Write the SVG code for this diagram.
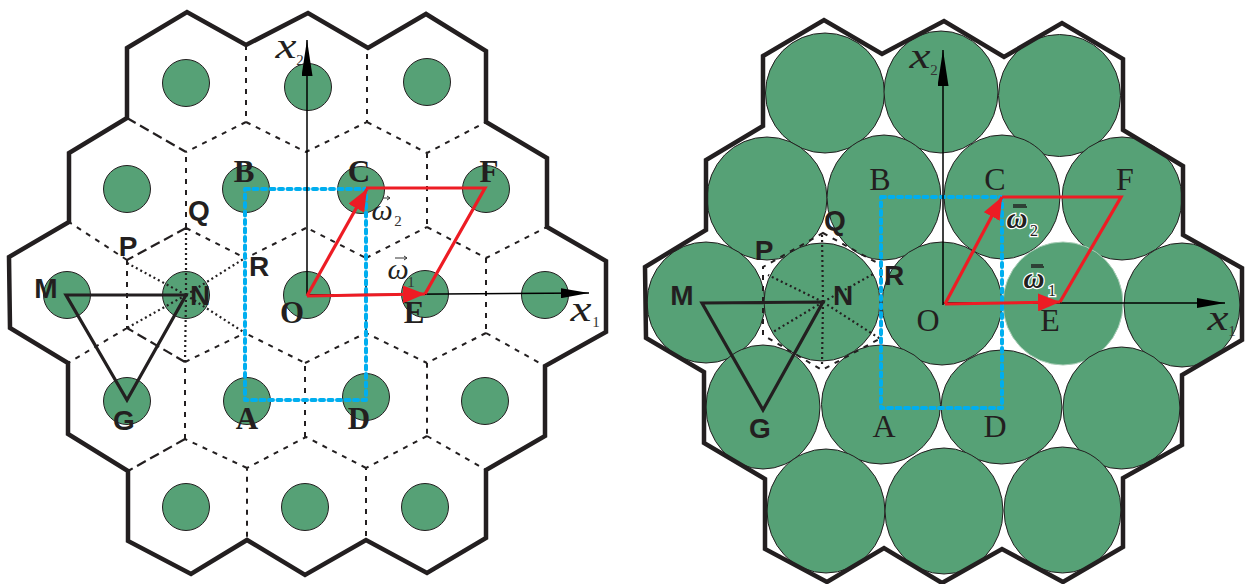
<svg xmlns="http://www.w3.org/2000/svg" width="1248" height="584" viewBox="0 0 1248 584">
<style>
.c{fill:#56a176;stroke:#231f20;stroke-width:1}
.o{fill:none;stroke:#231f20;stroke-width:4.5;stroke-linejoin:miter}
.d{fill:none;stroke:#231f20;stroke-width:2;stroke-dasharray:5 6}
.l{fill:none;stroke:#231f20;stroke-width:2.2;stroke-dasharray:10 5}
.p{fill:none;stroke:#231f20;stroke-width:2.2;stroke-dasharray:2 3}
.b{fill:none;stroke:#00aeef;stroke-width:4;stroke-dasharray:4 4.5;stroke-linecap:round;stroke-linejoin:round}
.a{fill:none;stroke:#000;stroke-width:1.5}
.t{fill:none;stroke:#231f20;stroke-width:3.2}
.r{fill:none;stroke:#ed1c24;stroke-width:3.2}
text{fill:#231f20;text-anchor:middle}
.sb{font:bold 28px "Liberation Sans",Arial,sans-serif}
.ss{font:bold 31px "Liberation Serif","Times New Roman",serif}
.sr{font:32px "Liberation Serif","Times New Roman",serif}
.x{font:italic 36px "Liberation Serif","Times New Roman",serif}
.sub{font:15px "Liberation Serif","Times New Roman",serif;fill:#333}
.w{font:italic 30px "Liberation Serif","Times New Roman",serif}
.h{font:italic bold 29px "Liberation Serif","Times New Roman",serif;stroke:#fff;stroke-width:2.5;paint-order:stroke}
.hs{font:16px "Liberation Serif","Times New Roman",serif;stroke:#fff;stroke-width:2.5;paint-order:stroke}
.v{stroke:#333;stroke-width:1;fill:none}
.vw{stroke:#222;stroke-width:1.5;fill:none}
</style>
<defs>
<marker id="red" markerUnits="userSpaceOnUse" markerWidth="22" markerHeight="18" viewBox="0 0 22 18" refX="22" refY="9" orient="auto"><path d="M0 0L22 9L0 18Z" fill="#ed1c24"/></marker>
<marker id="ax1" markerUnits="userSpaceOnUse" markerWidth="28" markerHeight="10" viewBox="0 0 28 10" refX="28" refY="5" orient="auto"><path d="M0 0L28 5L0 10Z" fill="#000"/></marker>
<marker id="ax2" markerUnits="userSpaceOnUse" markerWidth="36" markerHeight="11" viewBox="0 0 36 11" refX="36" refY="5.5" orient="auto"><path d="M0 0L36 5.5L0 11Z" fill="#000"/></marker>
</defs>

<g id="left-panel">
<g id="left-cells">
<circle class="c" cx="186" cy="83" r="23.5"/><circle class="c" cx="308" cy="87" r="23.5"/><circle class="c" cx="427" cy="82" r="23.5"/>
<circle class="c" cx="127" cy="189" r="23.5"/><circle class="c" cx="246" cy="189" r="23.5"/><circle class="c" cx="361" cy="190" r="23.5"/><circle class="c" cx="486" cy="189" r="23.5"/>
<circle class="c" cx="67" cy="295" r="23.5"/><circle class="c" cx="186" cy="295" r="23.5"/><circle class="c" cx="307" cy="295" r="23.5"/><circle class="c" cx="425" cy="294" r="23.5"/><circle class="c" cx="545" cy="295" r="23.5"/>
<circle class="c" cx="127" cy="401" r="23.5"/><circle class="c" cx="247" cy="401" r="23.5"/><circle class="c" cx="366" cy="397" r="23.5"/><circle class="c" cx="485" cy="401" r="23.5"/>
<circle class="c" cx="186" cy="507" r="23.5"/><circle class="c" cx="305" cy="507" r="23.5"/><circle class="c" cx="425" cy="507" r="23.5"/>
</g>
<g id="left-connectors">
<path class="d" d="M246 45V122L186 152M246 122L306 152L367 122V48M367 122L427 153L486 122M427 153V227M427 227L486 258L547 227M486 258V333M486 333L427 363V436M486 333L545 366M427 436L486 470M427 436L366 468V540M366 468L306 437L247 468V540M247 468L185 439M305 437V363L245 333M305 363L366 333L427 363M366 333V258L307 228M366 258L427 227M306 228L246 258M186 228V152M127 260L69 222M127 260V328M127 328L68 363M185 439V362"/>
<path class="l" d="M127 118L186 152M186 228L127 260M185 362L127 328M185 439L128 471"/>
<path class="d" d="M186 228L245 258M185 362L245 333"/>
<path class="p" d="M186 295L186 228M186 295L127 263M186 295L245 258M186 295L127 328M186 295L245 333M186 295L185 362"/>
<path class="b" d="M245 189H366V400H245Z"/>
<path class="a" d="M307 295V40" marker-end="url(#ax2)"/>
<path class="a" d="M307 295L589 293" marker-end="url(#ax1)"/>
<path class="t" d="M66 295H186L127 400Z"/>
<path class="r" d="M366 188L485 188L425 294"/>
<path class="r" d="M307 296L367 189" marker-end="url(#red)"/>
<path class="r" d="M307 296L425 294" marker-end="url(#red)"/>
<path class="o" d="M127 48L187 12L246 45L308 13L368 48L426 14L486 51V122L547 158V227L606 261V332L545 366V436L486 470V538L427 573L366 540L305 575L247 540L191 574L128 541V471L68 434V363L10 328L9 257L69 222V153L127 118Z"/>
<path class="v" d="M383 198H390M387 196L390 198L387 200"/>
<path class="v" d="M395 258H407M404 256L407 258L404 260"/>
</g>
<g id="left-labels">
<text class="ss" x="244" y="182">B</text><text class="ss" x="359" y="182">C</text><text class="ss" x="489" y="182">F</text>
<text class="ss" x="292" y="323">O</text><text class="ss" x="414" y="323">E</text><text class="ss" x="247" y="429">A</text><text class="ss" x="359" y="429">D</text>
<text class="sb" x="124" y="430">G</text><text class="sb" x="46" y="298">M</text><text class="sb" x="200" y="305">N</text>
<text class="sb" x="199" y="220">Q</text><text class="sb" x="128" y="256">P</text><text class="sb" x="259" y="276">R</text>
<text class="x" x="286" y="58" textLength="21" lengthAdjust="spacingAndGlyphs">x</text><text class="sub" x="300" y="65">2</text>
<text class="x" x="581" y="321" textLength="21" lengthAdjust="spacingAndGlyphs">x</text><text class="sub" x="596" y="327">1</text>
<text class="w" x="382" y="220">ω</text><text class="sub" x="398" y="226">2</text>
<text class="w" x="398" y="279">ω</text><text class="sub" x="411" y="287">1</text>
</g>
</g>

<g id="right-panel">
<g id="right-cells">
<ellipse class="c" cx="825" cy="93" rx="59.5" ry="60"/><ellipse class="c" cx="941" cy="92" rx="57" ry="61"/><ellipse class="c" cx="1059.500" cy="95.500" rx="61" ry="61"/>
<ellipse class="c" cx="767" cy="198.500" rx="60" ry="61.500"/><ellipse class="c" cx="884" cy="197.500" rx="57" ry="62.500"/><ellipse class="c" cx="1002" cy="197" rx="58" ry="62"/><ellipse class="c" cx="1122" cy="198.500" rx="60" ry="61.500"/>
<ellipse class="c" cx="706" cy="302.500" rx="59" ry="60.500"/><ellipse class="c" cx="822" cy="302" rx="58" ry="59"/><ellipse class="c" cx="942" cy="303.500" rx="60" ry="61.500"/><ellipse class="c" cx="1063" cy="303.500" rx="60" ry="61.500" style="stroke:#a9cdb7"/><ellipse class="c" cx="1182" cy="305" rx="58" ry="62"/>
<ellipse class="c" cx="763" cy="407" rx="57" ry="62"/><ellipse class="c" cx="881" cy="404.500" rx="59.500" ry="59.500"/><ellipse class="c" cx="1001.500" cy="407" rx="60.500" ry="57"/><ellipse class="c" cx="1121.500" cy="408" rx="58.500" ry="61"/>
<ellipse class="c" cx="826" cy="511" rx="59" ry="62"/><ellipse class="c" cx="944" cy="511" rx="59" ry="63"/><ellipse class="c" cx="1062.500" cy="510" rx="58.500" ry="63"/>
</g>
<g id="right-connectors">
<path class="d" d="M823 233L881 265V338L822 370L763 335V267Z"/>
<path class="p" d="M823 302L822 235M823 302L768 275M823 302L875 273M823 302L773 332M823 302L882 340M823 302L822 365"/>
<path class="b" d="M881 197H1002V408H881Z"/>
<path class="a" d="M943 305V50" marker-end="url(#ax2)"/>
<path class="a" d="M943 303H1225" marker-end="url(#ax1)"/>
<path class="t" d="M702 303L823 302L763 410Z"/>
<path class="r" d="M1002 197H1121L1060 302"/>
<path class="r" d="M945 304L1002 197" marker-end="url(#red)"/>
<path class="r" d="M945 304L1060 302" marker-end="url(#red)"/>
<path class="o" d="M763 56L824 20L882 54L944 21L1004 57L1062 23L1123 59V130L1183 166V235L1242 268V340L1182 375V445L1123 478V547L1063 582L1002 549L942 583L884 548L827 582L765 549V479L704 443V372L646 338L645 267L706 230V160L763 126Z"/>
<path class="vw" d="M1013 207H1027M1013 205H1026"/>
<path class="vw" d="M1031 267H1044M1031 265H1043"/>
</g>
<g id="right-labels">
<text class="sr" x="880" y="190">B</text><text class="sr" x="995" y="190">C</text><text class="sr" x="1125" y="190">F</text>
<text class="sr" x="928" y="331">O</text><text class="sr" x="1050" y="331">E</text><text class="sr" x="884" y="437">A</text><text class="sr" x="995" y="437">D</text>
<text class="sb" x="760" y="438">G</text><text class="sb" x="682" y="305">M</text><text class="sb" x="843" y="305">N</text>
<text class="sb" x="835" y="230">Q</text><text class="sb" x="764" y="260">P</text><text class="sb" x="894" y="285">R</text>
<text class="x" x="920" y="68" textLength="21" lengthAdjust="spacingAndGlyphs">x</text><text class="sub" x="934" y="75">2</text>
<text class="x" x="1218" y="330" textLength="21" lengthAdjust="spacingAndGlyphs">x</text><text class="sub" x="1232" y="336">1</text>
<text class="h" x="1017" y="228">ω</text><text class="hs" x="1034" y="236">2</text>
<text class="h" x="1034" y="288">ω</text><text class="hs" x="1052" y="296">1</text>
</g>
</g>
</svg>
